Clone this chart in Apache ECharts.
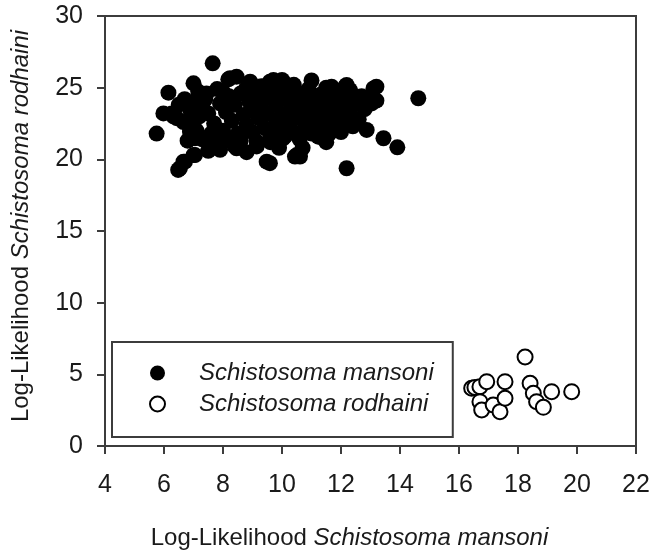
<!DOCTYPE html>
<html>
<head>
<meta charset="utf-8">
<script src="https://cdn.jsdelivr.net/npm/echarts@6/dist/echarts.min.js"></script>
<style>
html,body{margin:0;padding:0;background:#fff;}
#chart{width:662px;height:552px;}
</style>
</head>
<body>
<div id="chart"></div>
<script>
// Tick values
const xTicks = [4, 6, 8, 10, 12, 14, 16, 18, 20, 22];
const yTicks = [0, 5, 10, 15, 20, 25, 30];

// Series names
const seriesNames = ['Schistosoma mansoni', 'Schistosoma rodhaini'];

// Schistosoma mansoni samples: [LL mansoni, LL rodhaini]
const mansoniPoints = [
  [7.65, 26.7], [5.75, 21.8], [6.15, 24.65], [7.0, 25.3], [8.18, 25.58], [8.46, 25.77],
  [8.92, 25.42], [9.71, 25.54], [10.0, 25.54], [11.0, 25.5], [6.54, 19.38], [6.71, 19.84],
  [7.05, 20.3], [7.84, 20.77], [8.4, 20.9], [9.59, 19.73], [10.44, 20.19], [9.14, 20.9],
  [5.98, 23.2], [6.32, 23.0], [6.66, 22.6], [6.9, 22.05], [7.11, 21.58], [7.56, 21.35],
  [11.29, 21.58], [8.58, 21.35], [11.68, 25.07], [12.19, 25.19], [13.2, 25.07], [13.2, 24.1],
  [13.04, 23.9], [14.62, 24.26], [12.87, 22.05], [13.44, 21.47], [13.91, 20.84], [12.19, 19.38],
  [11.23, 21.58], [10.61, 20.19], [12.19, 23.0], [12.42, 22.75], [11.74, 22.75], [11.4, 22.05],
  [12.3, 24.15], [12.3, 24.84], [11.96, 24.38], [10.84, 23.68], [11.06, 22.98], [10.5, 20.3],
  [9.14, 21.24], [10.04, 21.47], [13.1, 24.95], [13.1, 24.15], [12.14, 25.07], [11.63, 24.95],
  [10.04, 25.42], [9.59, 25.42], [8.24, 25.66], [6.26, 23.2], [6.43, 22.87], [7.0, 22.4],
  [6.88, 21.93], [7.05, 21.47], [7.9, 20.66], [8.46, 20.77], [7.0, 20.3], [6.66, 19.84],
  [6.48, 19.26], [7.05, 24.03], [7.16, 24.73], [7.44, 24.6], [9.48, 19.84],
  [7.3, 23.8], [7.5, 23.2], [7.7, 22.5], [7.9, 23.9], [8.0, 22.0], [8.1, 23.3], [8.2, 24.4],
  [8.3, 22.7], [8.4, 23.8], [8.5, 21.8], [8.6, 24.6], [8.7, 23.1], [8.8, 22.4], [8.9, 24.0],
  [9.0, 23.5], [9.0, 21.9], [9.1, 24.8], [9.2, 22.9], [9.3, 23.9], [9.4, 22.2], [9.5, 24.4],
  [9.5, 23.2], [9.6, 21.7], [9.7, 24.9], [9.8, 22.7], [9.8, 23.8], [9.9, 22.0], [10.0, 24.3],
  [10.0, 23.1], [10.1, 21.6], [10.2, 24.8], [10.2, 22.5], [10.3, 23.6], [10.4, 21.9], [10.5, 24.2],
  [10.5, 22.9], [10.6, 23.5], [10.7, 24.6], [10.8, 22.3], [10.9, 23.1], [11.0, 24.0], [11.1, 22.6],
  [11.2, 23.4], [11.3, 24.5], [11.4, 23.0], [11.5, 23.8], [11.6, 22.4], [11.7, 24.2], [11.8, 23.3],
  [11.9, 23.9], [12.0, 22.6], [12.1, 23.5], [12.3, 23.2], [12.4, 24.5], [12.5, 23.9],
  [6.9, 23.4], [7.0, 22.8], [7.2, 23.0], [7.4, 24.2], [7.6, 21.8], [7.8, 24.9], [7.1, 22.0],
  [7.3, 21.4], [7.8, 21.2], [8.0, 24.7], [8.2, 21.4], [8.6, 21.3], [8.8, 25.0], [9.3, 25.1],
  [9.6, 21.2], [10.0, 25.1], [10.4, 25.2], [10.9, 24.9], [11.5, 25.0], [10.6, 21.4], [11.0, 21.8],
  [11.6, 21.8], [12.0, 21.9], [12.4, 22.3], [12.6, 22.8], [12.8, 23.5], [12.7, 24.4], [12.2, 24.8],
  [6.5, 23.8], [6.7, 24.2], [6.8, 21.3], [7.5, 20.6], [8.8, 20.5], [9.9, 20.8], [10.7, 20.8],
  [11.5, 21.2]
];

// Schistosoma rodhaini samples: [LL mansoni, LL rodhaini]
const rodhainiPoints = [
  [18.24, 6.21], [16.43, 4.03], [16.54, 4.09], [16.71, 4.14], [16.94, 4.49], [17.56, 4.49],
  [18.41, 4.37], [18.52, 3.68], [19.14, 3.79], [19.82, 3.79], [16.71, 3.09], [16.77, 2.51],
  [17.16, 2.86], [17.39, 2.39], [17.56, 3.33], [18.63, 3.09], [18.86, 2.70]
];

const FONT = "'Liberation Sans', Arial, sans-serif";
const TXT = '#1a1a1a';
const LINE = '#3c3c3c';

const chart = echarts.init(document.getElementById('chart'), null, {renderer: 'canvas'});

const axisCommon = {
  type: 'value',
  nameLocation: 'middle',
  splitLine: {show: false},
  axisLine: {show: true, onZero: false, lineStyle: {color: LINE, width: 2}},
  axisTick: {show: true, inside: false, length: 8, lineStyle: {color: LINE, width: 2}},
  axisLabel: {color: TXT, fontFamily: FONT, fontSize: 25}
};

function nameStyle(pad) {
  return {
    color: TXT, fontFamily: FONT, fontSize: 24, padding: pad,
    rich: {i: {fontStyle: 'italic', color: TXT, fontFamily: FONT, fontSize: 24}}
  };
}

chart.setOption({
  animation: false,
  backgroundColor: '#fff',
  grid: {
    left: 105, top: 16, right: 26, bottom: 106,
    containLabel: false,
    outerBoundsMode: 'none',
    show: true, borderColor: LINE, borderWidth: 2, backgroundColor: 'transparent'
  },
  xAxis: Object.assign({}, axisCommon, {
    min: xTicks[0], max: xTicks[xTicks.length - 1], interval: 2,
    name: 'Log-Likelihood {i|' + seriesNames[0] + '}',
    nameGap: 80,
    nameTextStyle: nameStyle([0, 42, 0, 0]),
    axisLabel: Object.assign({}, axisCommon.axisLabel, {margin: 27})
  }),
  yAxis: Object.assign({}, axisCommon, {
    min: yTicks[0], max: yTicks[yTicks.length - 1], interval: 5,
    name: 'Log-Likelihood {i|' + seriesNames[1] + '}',
    nameGap: 72,
    nameTextStyle: nameStyle([0, 0, 0, 10]),
    axisLabel: Object.assign({}, axisCommon.axisLabel, {margin: 22})
  }),
  legend: {
    show: true,
    orient: 'vertical',
    left: 112, top: 342,
    padding: [16, 19, 18, 37],
    itemGap: 1,
    itemWidth: 15, itemHeight: 15,
    borderColor: LINE, borderWidth: 2,
    backgroundColor: '#fff',
    textStyle: {color: TXT, fontFamily: FONT, fontSize: 24, fontStyle: 'italic', lineHeight: 30, padding: [0, 0, 0, 29]},
    data: [
      {name: seriesNames[0], icon: 'circle', itemStyle: {color: '#000', borderWidth: 0}},
      {name: seriesNames[1], icon: 'circle', itemStyle: {color: '#fff', borderColor: '#000', borderWidth: 2}}
    ]
  },
  series: [
    {
      name: seriesNames[0], type: 'scatter', data: mansoniPoints,
      symbol: 'circle', symbolSize: 16,
      itemStyle: {color: '#000', opacity: 1}
    },
    {
      name: seriesNames[1], type: 'scatter', data: rodhainiPoints,
      symbol: 'circle', symbolSize: 15,
      itemStyle: {color: '#fff', borderColor: '#000', borderWidth: 2, opacity: 1}
    }
  ]
});
</script>
</body>
</html>
